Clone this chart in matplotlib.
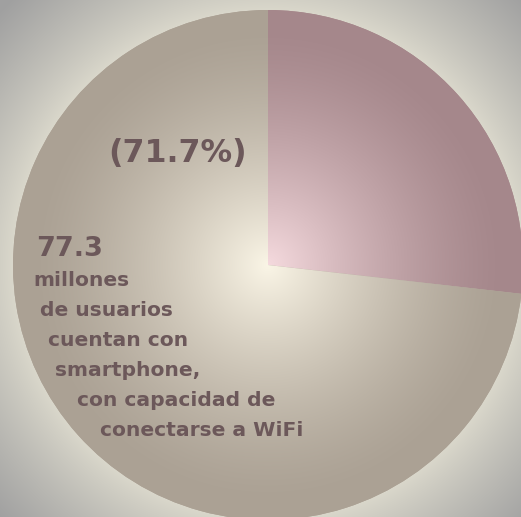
import numpy as np
import matplotlib
matplotlib.use("Agg")
import matplotlib.pyplot as plt

# data
labels = ["otros", "con smartphone WiFi"]
shares = [26.8, 73.2]          # drawn share of the two slices
pct_label = "(71.7%)"
big_number = "77.3"
desc_lines = ["millones", "de usuarios", "cuentan con", "smartphone,",
              "con capacidad de", "conectarse a WiFi"]
desc_indent = [33, 40, 48, 55, 77, 100]

W, H = 521, 517
cx, cy, R = 268, 517 - 265, 255

fig = plt.figure(figsize=(W / 100, H / 100), dpi=100)
ax = fig.add_axes([0, 0, 1, 1])

# background radial gradient
yy, xx = np.mgrid[0:H, 0:W]
xx = xx + 0.5
yy = H - (yy + 0.5)
rr = np.hypot(xx - cx, yy - cy)

def lerp(c0, c1, w):
    c0 = np.array(c0) / 255.0
    c1 = np.array(c1) / 255.0
    return c0 + (c1 - c0) * w[..., None]

w_bg = np.clip((rr - 240) / 130.0, 0, 1) ** 0.8
bg = lerp((230, 227, 212), (160, 160, 160), w_bg)
ax.imshow(bg, extent=(0, W, 0, H), origin="upper", zorder=0)

wedges, _ = ax.pie(shares, startangle=90, counterclock=False,
                   center=(cx, cy), radius=R, colors=["#a6888b", "#aca195"],
                   wedgeprops=dict(linewidth=0))

# lighter centre on each slice
t = np.clip(rr / R, 0, 1)
w_in = np.clip(1 - t / 0.93, 0, 1) ** 1.4
grad_colors = [((165, 135, 139), (245, 218, 222)),
               ((171, 161, 148), (250, 245, 230))]
for wd, (edge, centre) in zip(wedges, grad_colors):
    img = lerp(edge, centre, w_in)
    im = ax.imshow(img, extent=(0, W, 0, H), origin="upper", zorder=2)
    im.set_clip_path(wd)

txt_color = "#6c585a"
ax.text(108, H - 162, pct_label, fontsize=22.8, fontweight="bold",
        color=txt_color, ha="left", va="baseline", zorder=5)
ax.text(36, H - 256, big_number, fontsize=19.5, fontweight="bold",
        color=txt_color, ha="left", va="baseline", zorder=5)
for i, (line, x0) in enumerate(zip(desc_lines, desc_indent)):
    ax.text(x0, H - (286 + 30 * i), line, fontsize=14.6, fontweight="bold",
            color=txt_color, ha="left", va="baseline", zorder=5)

ax.set_xlim(0, W)
ax.set_ylim(0, H)
ax.set_aspect("auto")
ax.axis("off")
fig.savefig("out.png", dpi=100)
